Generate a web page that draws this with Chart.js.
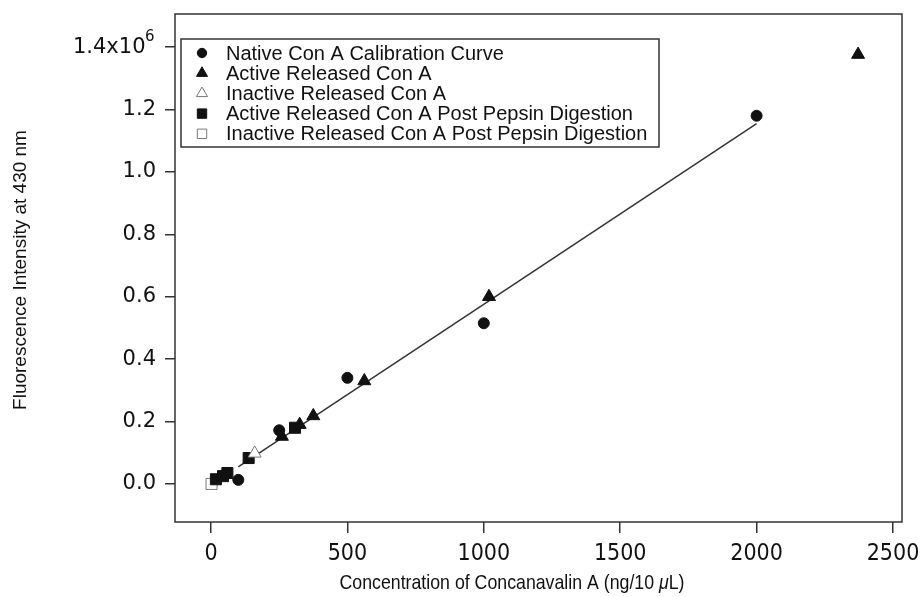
<!DOCTYPE html>
<html>
<head>
<meta charset="utf-8">
<script src="https://cdn.jsdelivr.net/npm/chart.js@4.4.1/dist/chart.umd.min.js"></script>
<style>
html,body{margin:0;padding:0;background:#fff;}
</style>
</head>
<body>
<canvas id="c" width="924" height="597"></canvas>
<script>
// Con A concentration (ng/10 uL) vs fluorescence intensity at 430 nm
const nativeX = [100, 250, 500, 1000, 2000];
const nativeY = [0.013e6, 0.172e6, 0.34e6, 0.515e6, 1.18e6];
const activeX = [260, 325, 375, 562, 1019, 2372];
const activeY = [0.152e6, 0.19e6, 0.218e6, 0.33e6, 0.6e6, 1.376e6];
const inactiveX = [160];
const inactiveY = [0.098e6];
const pepsinActiveX = [18, 44, 60, 138, 308];
const pepsinActiveY = [0.015e6, 0.025e6, 0.035e6, 0.083e6, 0.18e6];
const pepsinInactiveX = [2];
const pepsinInactiveY = [0];
// calibration fit line end points
const fitX = [100, 2000];
const fitY = [0.055e6, 1.155e6];

const xTicks = [0, 500, 1000, 1500, 2000, 2500];
const yTicks = [0, 0.2e6, 0.4e6, 0.6e6, 0.8e6, 1.0e6, 1.2e6, 1.4e6];
const yTopTick = 1.4e6;

const pts = (xs, ys) => xs.map((x, i) => ({x, y: ys[i]}));

const INK = '#111';
const tickFontY = {family: 'DejaVu Sans', size: 21};
const tickFontX = {family: 'DejaVu Sans Condensed', size: 23};

function symbolSet(label, xs, ys, style, r, open) {
  return {
    label, data: pts(xs, ys), pointStyle: style,
    pointRadius: r, pointHoverRadius: r, legendRadius: r * 0.85,
    backgroundColor: open ? '#fff' : INK,
    borderColor: open ? '#777' : INK,
    borderWidth: 1, showLine: false, order: 0
  };
}

// keep the plot box fixed: no extra room for overhanging tick labels
function noPad(s) {
  s.paddingLeft = s.paddingRight = s.paddingTop = s.paddingBottom = 0;
}

// frame round the plot area
const frame = {
  id: 'frame',
  beforeDatasetsDraw(chart) {
    const a = chart.chartArea, ctx = chart.ctx;
    ctx.save();
    ctx.strokeStyle = '#333';
    ctx.lineWidth = 1.5;
    ctx.strokeRect(a.left, a.top, a.right - a.left, a.bottom - a.top);
    ctx.restore();
  }
};

// boxed legend inside the plot, top left
const boxLegend = {
  id: 'boxLegend',
  afterDatasetsDraw(chart) {
    const ctx = chart.ctx;
    const sets = chart.data.datasets.filter(d => d.label);
    ctx.save();
    ctx.fillStyle = '#fff';
    ctx.fillRect(181, 39, 478, 108);
    ctx.strokeStyle = '#333';
    ctx.lineWidth = 1.5;
    ctx.strokeRect(181, 39, 478, 108);
    sets.forEach((d, i) => {
      const y = 53 + i * 20.2;
      ctx.fillStyle = d.backgroundColor;
      ctx.strokeStyle = d.borderColor;
      ctx.lineWidth = d.borderWidth;
      Chart.helpers.drawPoint(ctx, {pointStyle: d.pointStyle, radius: d.legendRadius, borderWidth: d.borderWidth, rotation: 0}, 202, y);
      ctx.fillStyle = INK;
      ctx.font = '20px "Liberation Sans", Arial, sans-serif';
      ctx.textBaseline = 'middle';
      ctx.textAlign = 'left';
      ctx.fillText(d.label, 226, y + 1);
    });
    ctx.restore();
  }
};

// axis titles, plus the exponent on the top y tick
const titles = {
  id: 'titles',
  afterDraw(chart) {
    const ctx = chart.ctx;
    const ys = chart.scales.y;

    ctx.save();
    ctx.fillStyle = INK;
    ctx.font = '15px "DejaVu Sans", sans-serif';
    ctx.textAlign = 'left';
    ctx.textBaseline = 'middle';
    ctx.fillText('6', 145, ys.getPixelForValue(yTopTick) - 10);
    ctx.restore();

    ctx.save();
    ctx.fillStyle = INK;
    ctx.textBaseline = 'middle';
    ctx.textAlign = 'center';
    ctx.font = '19px "Liberation Sans", Arial, sans-serif';
    ctx.translate(21, 270);
    ctx.rotate(-Math.PI / 2);
    ctx.fillText('Fluorescence Intensity at 430 nm', 0, 0);
    ctx.restore();

    // narrow-looking x title: regular face squeezed horizontally
    ctx.save();
    ctx.fillStyle = INK;
    ctx.textBaseline = 'middle';
    const parts = [
      ['Concentration of Concanavalin A (ng/10 ', '21px "Liberation Sans", sans-serif'],
      ['\u03bc', 'italic 21px "Liberation Sans", sans-serif'],
      ['L)', '21px "Liberation Sans", sans-serif']
    ];
    let total = 0;
    parts.forEach(p => { ctx.font = p[1]; total += ctx.measureText(p[0]).width; });
    const sx = 345 / total;
    ctx.translate(512 - 345 / 2, 583);
    ctx.scale(sx, 1);
    let x = 0;
    parts.forEach(p => {
      ctx.font = p[1];
      ctx.fillText(p[0], x, 0);
      x += ctx.measureText(p[0]).width;
    });
    ctx.restore();
  }
};

new Chart(document.getElementById('c'), {
  type: 'scatter',
  data: {
    datasets: [
      symbolSet('Native Con A Calibration Curve', nativeX, nativeY, 'circle', 5.5, false),
      symbolSet('Active Released Con A', activeX, activeY, 'triangle', 7.5, false),
      symbolSet('Inactive Released Con A', inactiveX, inactiveY, 'triangle', 7.5, true),
      symbolSet('Active Released Con A Post Pepsin Digestion', pepsinActiveX, pepsinActiveY, 'rect', 7.8, false),
      symbolSet('Inactive Released Con A Post Pepsin Digestion', pepsinInactiveX, pepsinInactiveY, 'rect', 7.8, true),
      {
        data: pts(fitX, fitY), showLine: true, pointRadius: 0,
        borderColor: '#333', borderWidth: 1.5, order: 10
      }
    ]
  },
  options: {
    responsive: false,
    animation: false,
    devicePixelRatio: 1,
    layout: {autoPadding: false, padding: {left: 0, top: 14, right: 22, bottom: 0}},
    plugins: {legend: {display: false}, tooltip: {enabled: false}},
    scales: {
      x: {
        type: 'linear', min: -132, max: 2533,
        afterFit: s => { s.height = 75; noPad(s); },
        afterBuildTicks: s => { s.ticks = xTicks.map(v => ({value: v})); },
        border: {display: false},
        grid: {display: true, drawOnChartArea: false, drawTicks: true, tickLength: 11, color: '#333', lineWidth: 1.5},
        ticks: {color: INK, font: tickFontX, padding: 7, maxRotation: 0, callback: v => String(v)}
      },
      y: {
        type: 'linear', min: -0.122e6, max: 1.506e6,
        afterFit: s => { s.width = 175; noPad(s); },
        afterBuildTicks: s => { s.ticks = yTicks.map(v => ({value: v})); },
        border: {display: false},
        grid: {display: true, drawOnChartArea: false, drawTicks: true, tickLength: 10, color: '#333', lineWidth: 1.5},
        ticks: {
          color: INK, font: tickFontY, padding: 9,
          callback: v => Math.abs(v - yTopTick) < 1 ? '1.4x10\u2002' : (v / 1e6).toFixed(1)
        }
      }
    }
  },
  plugins: [frame, boxLegend, titles]
});
</script>
</body>
</html>
